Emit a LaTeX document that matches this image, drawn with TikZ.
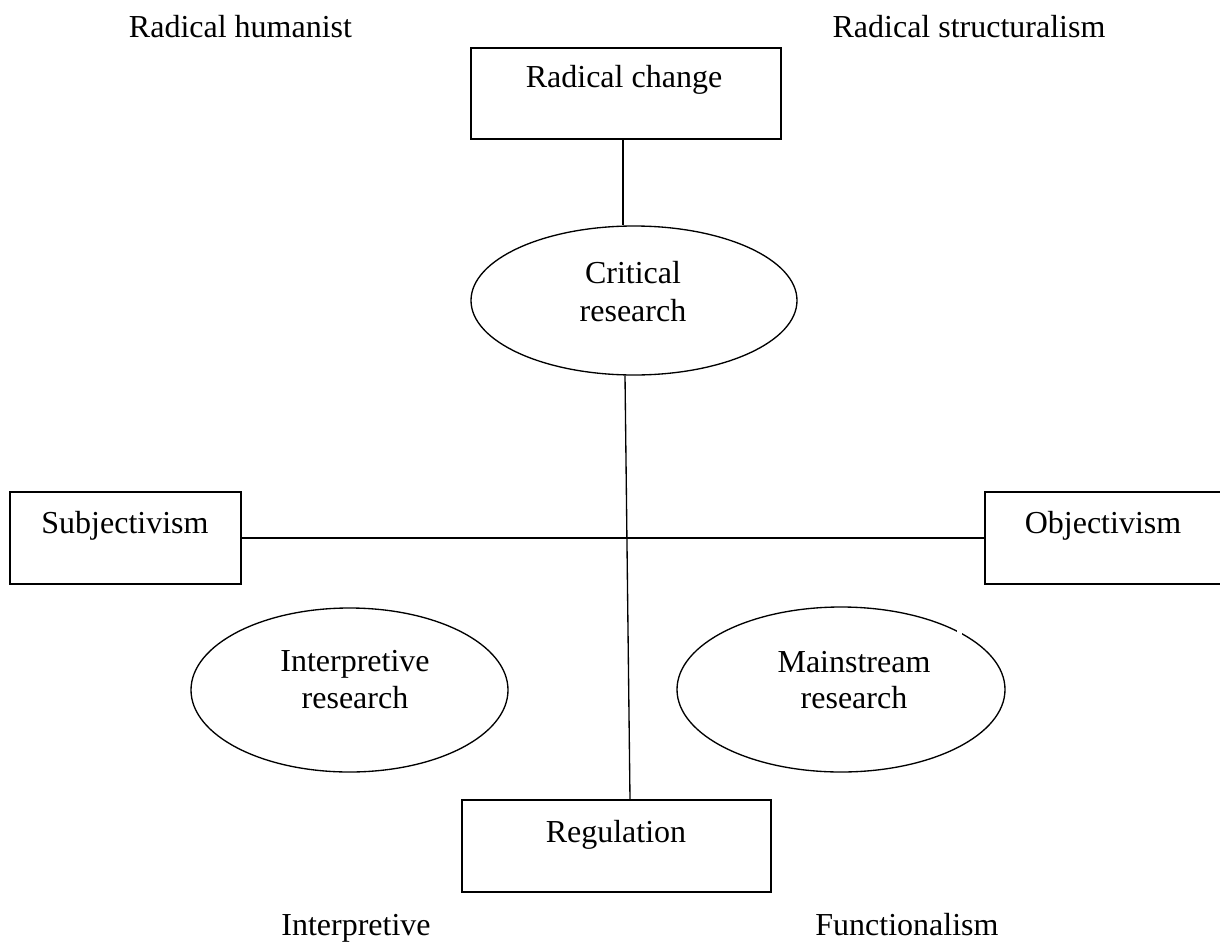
\documentclass[tikz,border=0pt]{standalone}
\usepackage{fontspec}
\setmainfont{Liberation Serif}
\usetikzlibrary{shapes.geometric,calc}
\begin{document}
\begin{tikzpicture}[x=0.75pt,y=-0.75pt,
  box/.style={draw, line width=1pt, rectangle, inner sep=0pt},
  oval/.style={draw, line width=1pt, ellipse, inner sep=0pt},
  lbl/.style={anchor=base, inner sep=0pt, font=\fontsize{24}{28}\selectfont},
  link/.style={line width=1pt}]
\clip (0,0) rectangle (1220,942);
\fill[white] (0,0) rectangle (1220,942);

% boxes
\node[box, minimum width=232.5pt, minimum height=68.25pt] (rc) at (626,93.5) {};
\node[box, minimum width=173.25pt, minimum height=69pt] (sub) at (125.5,538) {};
\node[box, minimum width=198.75pt, minimum height=69pt] (obj) at (1117.5,538) {};
\node[box, minimum width=231.75pt, minimum height=69pt] (reg) at (616.5,846) {};

% ellipses
\node[oval, minimum width=244.5pt, minimum height=111.75pt] (cr) at (634,300.5) {};
\node[oval, minimum width=237.75pt, minimum height=123pt] (ir) at (349.5,690) {};
\node[oval, minimum width=246pt, minimum height=123.75pt] (mr) at (841,689.5) {};
\fill[white] (957,628) rectangle (962,637);

% connectors
\draw[link] ($(rc.south)+(-3,0)$) -- ($(cr.north)+(-11,0)$);
\draw[link] ($(cr.south)+(-9,0)$) -- ($(reg.north)+(13.5,0)$);
\draw[link] (sub.east) -- (obj.west);

% texts
\node[lbl] (t1) at (240.5,38) {Radical humanist};
\node[lbl] (t2) at (969,38) {Radical structuralism};
\node[lbl] (t3) at (624,88) {Radical change};
\node[lbl] (t4) at (633,283) {Critical};
\node[lbl] (t5) at (633,321) {research};
\node[lbl] (t6) at (125,533) {Subjectivism};
\node[lbl] (t7) at (1103,533) {Objectivism};
\node[lbl] (t8) at (355,671) {Interpretive};
\node[lbl] (t9) at (355,708) {research};
\node[lbl] (t10) at (854,672) {Mainstream};
\node[lbl] (t11) at (854,708) {research};
\node[lbl] (t12) at (616,842) {Regulation};
\node[lbl] (t13) at (356,935) {Interpretive};
\node[lbl] (t14) at (907,935) {Functionalism};
\end{tikzpicture}
\end{document}
